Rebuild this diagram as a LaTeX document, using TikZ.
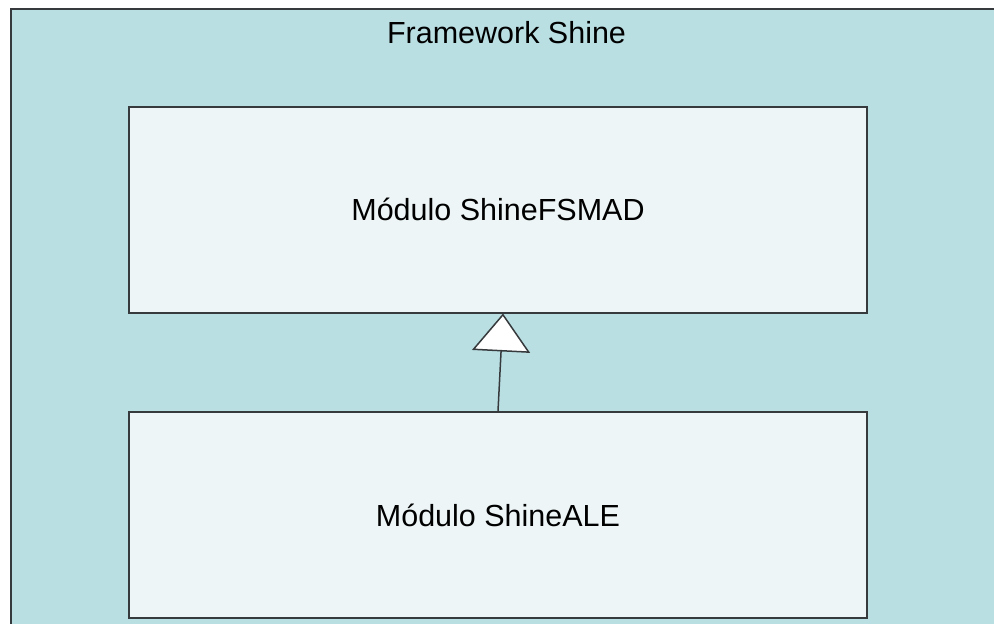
\documentclass[tikz,border=0pt]{standalone}
\usepackage{fontspec}
\setmainfont{Liberation Sans}
\usetikzlibrary{arrows.meta,positioning}
\definecolor{frameblue}{RGB}{185,223,227}
\definecolor{modulefill}{RGB}{237,245,247}
\definecolor{edgegray}{RGB}{55,58,60}

\tikzset{
  module/.style={draw=edgegray,line width=2pt,fill=modulefill,
    minimum width=738pt,minimum height=206pt,inner sep=0pt,
    font=\fontsize{30.5}{36}\selectfont},
  heading/.style={font=\fontsize{30.5}{36}\selectfont,inner sep=0pt},
  inherit/.style={draw=edgegray,line width=1.5pt,
    -{Triangle[open,length=38pt,width=58pt,fill=white,line width=1.5pt]}}
}

\begin{document}
\begin{tikzpicture}[x=1pt,y=-1pt]
  \useasboundingbox (0,0) rectangle (994,624);
  \clip (0,0) rectangle (994,624);
  % framework area
  \fill[white] (0,0) rectangle (994,624);
  \draw[draw=edgegray,line width=2.4pt,fill=frameblue] (11,9) rectangle (1010,640);
  \node[heading] (frame) at (506.5,33) {Framework Shine};

  % modules
  \node[module] (fsmad) at (498,209.5) {Módulo ShineFSMAD};
  \node[module] (ale) at (498,515) {Módulo ShineALE};

  \draw[inherit] (ale.north) -- ([xshift=5pt]fsmad.south);
\end{tikzpicture}
\end{document}
